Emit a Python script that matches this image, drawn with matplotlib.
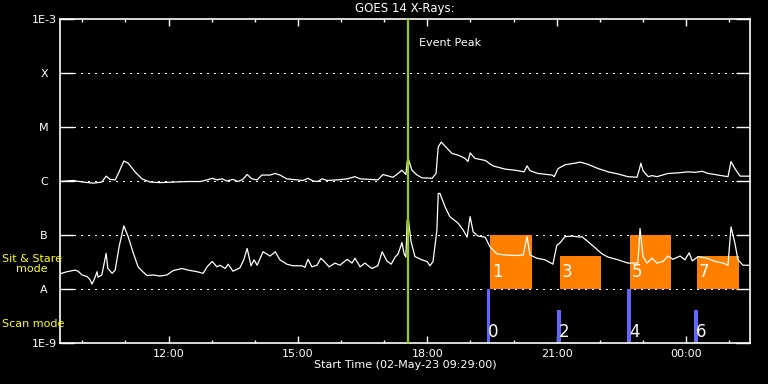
import numpy as np
import matplotlib
matplotlib.use("Agg")
import matplotlib.pyplot as plt
import matplotlib.dates as mdates
from datetime import datetime, timedelta

start = datetime(2023, 5, 2, 9, 29)

# long channel (1-8 A): hours after start, log10 flux
long_t = [0.00, 0.30, 0.53, 0.77, 0.97, 1.07, 1.16, 1.28, 1.37, 1.48, 1.58, 1.74,
          1.90, 2.09, 2.32, 2.62, 2.95, 3.25, 3.41, 3.53, 3.64, 3.76, 3.87, 4.01,
          4.13, 4.24, 4.34, 4.45, 4.57, 4.68, 4.87, 4.99, 5.10, 5.26, 5.50, 5.64,
          5.75, 5.87, 5.98, 6.08, 6.19, 6.42, 6.66, 6.84, 6.96, 7.19, 7.37, 7.49,
          7.58, 7.72, 7.81, 7.93, 8.02, 8.05, 8.07, 8.16, 8.28, 8.39, 8.63, 8.72,
          8.77, 8.84, 8.97, 9.09, 9.23, 9.39, 9.46, 9.51, 9.62, 9.86, 10.04, 10.32,
          10.55, 10.76, 10.83, 10.90, 11.08, 11.41, 11.46, 11.55, 11.71, 11.94, 12.06,
          12.24, 12.48, 12.71, 12.94, 13.17, 13.38, 13.43, 13.47, 13.52, 13.64, 13.73,
          13.84, 14.10, 14.33, 14.56, 14.73, 14.89, 15.03, 15.26, 15.49, 15.56, 15.65,
          15.77, 16.00]
long_log = [-6.01, -5.99, -6.02, -6.04, -6.02, -5.91, -5.97, -5.98, -5.83, -5.63, -5.67, -5.83,
            -5.96, -6.02, -6.03, -6.02, -6.01, -6.01, -5.98, -5.95, -5.98, -5.96, -6.00, -5.97,
            -6.01, -5.97, -5.88, -5.96, -5.98, -5.89, -5.89, -5.86, -5.89, -5.96, -5.98, -5.99,
            -5.95, -6.00, -6.01, -5.96, -5.99, -5.98, -5.96, -5.92, -5.96, -5.97, -5.98, -5.88,
            -5.90, -5.93, -5.88, -5.80, -5.88, -5.65, -5.57, -5.80, -5.89, -5.94, -5.95, -5.86,
            -5.37, -5.28, -5.39, -5.49, -5.52, -5.58, -5.64, -5.48, -5.58, -5.62, -5.72, -5.78,
            -5.80, -5.83, -5.72, -5.81, -5.86, -5.89, -5.92, -5.77, -5.70, -5.67, -5.65,
            -5.69, -5.77, -5.83, -5.87, -5.92, -5.93, -5.80, -5.67, -5.81, -5.92, -5.90,
            -5.92, -5.86, -5.85, -5.83, -5.84, -5.82, -5.86, -5.89, -5.92, -5.64, -5.77,
            -5.91, -5.91]

# short channel (0.5-4 A)
short_t = [0.00, 0.16, 0.35, 0.42, 0.51, 0.63, 0.70, 0.74, 0.79, 0.86, 0.88, 0.97,
           1.07, 1.11, 1.21, 1.28, 1.37, 1.48, 1.58, 1.69, 1.81, 1.92, 2.02, 2.16,
           2.32, 2.48, 2.62, 2.83, 2.97, 3.18, 3.32, 3.41, 3.53, 3.64, 3.71, 3.83,
           3.90, 4.01, 4.17, 4.26, 4.34, 4.43, 4.50, 4.57, 4.71, 4.87, 4.99, 5.10,
           5.26, 5.40, 5.61, 5.68, 5.75, 5.84, 5.96, 6.05, 6.15, 6.24, 6.38, 6.49,
           6.66, 6.77, 6.84, 6.96, 7.07, 7.23, 7.37, 7.47, 7.58, 7.68, 7.77, 7.84,
           7.93, 7.98, 8.02, 8.05, 8.07, 8.14, 8.23, 8.39, 8.51, 8.58, 8.65, 8.74,
           8.77, 8.81, 8.93, 9.04, 9.23, 9.35, 9.44, 9.51, 9.58, 9.69, 9.86, 9.97,
           10.13, 10.32, 10.55, 10.74, 10.83, 10.90, 11.06, 11.25, 11.43, 11.52, 11.59,
           11.71, 11.87, 12.06, 12.10, 12.24, 12.40, 12.57, 12.71, 12.94, 13.17, 13.40,
           13.45, 13.52, 13.61, 13.73, 13.84, 13.98, 14.10, 14.21, 14.38, 14.49, 14.59,
           14.66, 14.80, 15.00, 15.19, 15.38, 15.49, 15.56, 15.65, 15.72, 15.84, 16.00]
short_log = [-7.72, -7.68, -7.65, -7.67, -7.74, -7.77, -7.83, -7.91, -7.83, -7.68, -7.78, -7.74,
             -7.34, -7.62, -7.71, -7.65, -7.22, -6.83, -7.03, -7.31, -7.59, -7.68, -7.75, -7.74,
             -7.76, -7.74, -7.66, -7.62, -7.65, -7.68, -7.71, -7.59, -7.49, -7.59, -7.56, -7.62,
             -7.54, -7.67, -7.61, -7.46, -7.25, -7.57, -7.46, -7.56, -7.31, -7.39, -7.31, -7.46,
             -7.54, -7.57, -7.57, -7.60, -7.45, -7.59, -7.56, -7.43, -7.51, -7.59, -7.52, -7.56,
             -7.45, -7.52, -7.43, -7.59, -7.52, -7.62, -7.57, -7.31, -7.48, -7.54, -7.41, -7.35,
             -7.14, -7.35, -7.41, -6.74, -6.66, -7.12, -7.40, -7.46, -7.49, -7.57, -7.49, -6.91,
             -6.23, -6.23, -6.48, -6.66, -6.78, -6.91, -7.04, -6.66, -6.94, -7.02, -7.04, -7.22,
             -7.35, -7.37, -7.38, -7.37, -7.03, -7.37, -7.43, -7.46, -7.54, -7.19, -7.15,
             -7.03, -7.02, -7.04, -7.03, -7.12, -7.23, -7.35, -7.41, -7.46, -7.52, -7.52,
             -6.88, -7.40, -7.52, -7.43, -7.52, -7.49, -7.39, -7.45, -7.39, -7.46, -7.33,
             -7.48, -7.40, -7.43, -7.49, -7.52, -7.56, -6.85, -7.15, -7.46, -7.56, -7.56]

event_peak = 8.07

# sit & stare rasters: number, start, end (hours), top (log10)
stare_num = [1, 3, 5, 7]
stare_start = [9.97, 11.59, 13.22, 14.77]
stare_end = [10.94, 12.54, 14.17, 15.74]
stare_top = [-7.0, -7.39, -7.0, -7.39]

# scan rasters
scan_num = [0, 2, 4, 6]
scan_start = [9.89, 11.52, 13.15, 14.70]
scan_end = [9.98, 11.61, 13.24, 14.79]
scan_top = [-8.0, -8.39, -8.0, -8.39]

levels = [1e-9, 1e-8, 1e-7, 1e-6, 1e-5, 1e-4, 1e-3]
level_names = ["1E-9", "A", "B", "C", "M", "X", "1E-3"]


def tt(h):
    return start + timedelta(hours=float(h))


def tts(hs):
    return [tt(v) for v in hs]


plt.rcParams["font.family"] = "DejaVu Sans"
fig = plt.figure(figsize=(7.68, 3.84), dpi=100, facecolor="black")
ax = fig.add_axes([60 / 768, 41 / 384, 690 / 768, 324 / 384], facecolor="black")

for lv in levels[1:-1]:
    ax.axhline(lv, color="white", lw=0.75, ls=(0, (1, 5)), zorder=1, antialiased=False)

for n, s, e, top in zip(stare_num, stare_start, stare_end, stare_top):
    ax.bar(tt(s), 10**top - 1e-8, width=timedelta(hours=e - s), bottom=1e-8,
           align="edge", color="#ff8000", lw=0, zorder=2)
    ax.text(tt(s + 0.04), 10**-7.68, str(n), color="white", fontsize=12,
            ha="left", va="center", zorder=5)

for n, s, e, top in zip(scan_num, scan_start, scan_end, scan_top):
    ax.bar(tt(s), 10**top - 1e-9, width=timedelta(hours=e - s), bottom=1e-9,
           align="edge", color="#6464ff", lw=0, zorder=2)
    ax.text(tt(s + 0.04), 10**-8.8, str(n), color="white", fontsize=12,
            ha="left", va="center", zorder=5)

ax.plot(tts(long_t), 10**np.array(long_log), color="white", lw=0.9, zorder=3)
ax.plot(tts(short_t), 10**np.array(short_log), color="white", lw=0.9, zorder=3)

ax.axvline(tt(event_peak), color="#9acd00", lw=1.6, zorder=4)
ax.text(tt(event_peak + 0.25), 10**-3.45, "Event Peak", color="white",
        fontsize=8, ha="left", va="center")

ax.set_yscale("log")
ax.set_ylim(1e-9, 1e-3)
ax.set_xlim(tt(0), tt(16))
ax.set_yticks(levels)
ax.set_yticklabels(level_names)
ax.yaxis.set_minor_locator(matplotlib.ticker.NullLocator())
for lab in ax.get_yticklabels():
    lab.set_ha("center")
ax.tick_params(axis="y", which="major", direction="in", length=10, width=1,
               colors="white", labelsize=8, pad=11.5, right=True)

ax.xaxis.set_major_locator(mdates.HourLocator(byhour=range(0, 24, 3)))
ax.xaxis.set_minor_locator(mdates.HourLocator())
ax.xaxis.set_major_formatter(mdates.DateFormatter("%H:%M"))
ax.tick_params(axis="x", which="major", direction="in", length=5, width=1,
               colors="white", labelsize=8, pad=4, top=True)
ax.tick_params(axis="x", which="minor", direction="in", length=2.5, width=1,
               colors="white", top=True)
ax.set_xlabel("Start Time (02-May-23 09:29:00)", color="white", fontsize=8, labelpad=1)
ax.set_title("GOES 14 X-Rays:", color="white", fontsize=8.5, pad=5)

for sp in ax.spines.values():
    sp.set_color("white")
    sp.set_linewidth(1.2)

fig.text(2 / 768, 1 - 264 / 384, "Sit & Stare\nmode", color="#ffff00", fontsize=8,
         ha="left", va="center", multialignment="center", linespacing=1.0)
fig.text(2 / 768, 1 - 324 / 384, "Scan mode", color="#ffff00", fontsize=8,
         ha="left", va="center")

fig.savefig("out.png", dpi=100, facecolor="black")
